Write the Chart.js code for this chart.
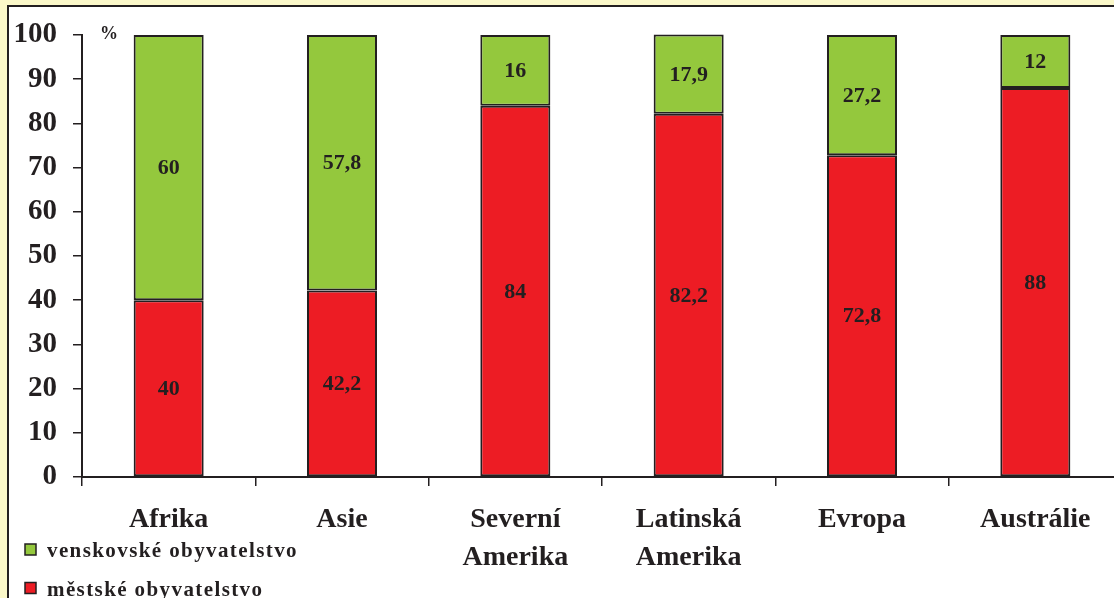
<!DOCTYPE html>
<html><head><meta charset="utf-8">
<script src="https://cdn.jsdelivr.net/npm/chart.js@4.4.1/dist/chart.umd.min.js"></script>
<style>
html,body{margin:0;padding:0;width:1114px;height:598px;overflow:hidden;background:#fbf8c9;}
#panel{position:absolute;left:7px;top:5px;width:1120px;height:600px;background:#fff;border-left:2px solid #231f20;border-top:2px solid #231f20;}
#wrap{position:absolute;left:0;top:0;width:1114px;height:598px;overflow:hidden;}
canvas{position:absolute;left:0;top:0;}
</style></head>
<body>
<div id="panel"></div>
<div id="wrap"><canvas id="c" width="1130" height="598" style="width:1130px;height:598px"></canvas></div>
<script>
const categories = ['Afrika', 'Asie', ['Severní', 'Amerika'], ['Latinská', 'Amerika'], 'Evropa', 'Austrálie'];
const urbanValues = [40, 42.2, 84, 82.2, 72.8, 88];
const ruralValues = [60, 57.8, 16, 17.9, 27.2, 12];
const urbanLabel = 'městské obyvatelstvo';
const ruralLabel = 'venskovské obyvatelstvo';
const yTicks = [0, 10, 20, 30, 40, 50, 60, 70, 80, 90, 100];

const DARK = '#231f20';
const RED = '#ed1c24';
const GREEN = '#94c83d';
const SERIF = '"Liberation Serif", "Times New Roman", serif';

const labelsPlugin = {
  id: 'segLabels',
  afterDatasetsDraw(chart) {
    const ctx = chart.ctx;
    ctx.save();
    ctx.font = 'bold 22px ' + SERIF;
    ctx.fillStyle = DARK;
    ctx.textAlign = 'center';
    ctx.textBaseline = 'middle';
    chart.data.datasets.forEach((ds, i) => {
      const meta = chart.getDatasetMeta(i);
      meta.data.forEach((el, j) => {
        const v = ds.data[j];
        const y = (el.y + el.base) / 2;
        ctx.fillText(String(v).replace('.', ','), el.x, y + 1);
      });
    });
    ctx.font = 'bold 18px ' + SERIF;
    ctx.textAlign = 'left';
    ctx.fillText('%', chart.chartArea.left + 18, chart.chartArea.top - 1);
    ctx.restore();
  }
};

const legendPlugin = {
  id: 'customLegend',
  afterDraw(chart) {
    const ctx = chart.ctx;
    ctx.save();
    const items = chart.data.datasets.slice().reverse();
    ctx.font = 'bold 21px ' + SERIF;
    ctx.letterSpacing = '1.4px';
    ctx.textBaseline = 'alphabetic';
    ctx.textAlign = 'left';
    items.forEach((ds, k) => {
      const top = 544 + k * 38.5;
      ctx.fillStyle = ds.backgroundColor;
      ctx.fillRect(25, top, 11, 11);
      ctx.strokeStyle = DARK;
      ctx.lineWidth = 1.5;
      ctx.strokeRect(25, top, 11, 11);
      ctx.fillStyle = DARK;
      ctx.fillText(ds.label, 47, top + 13);
    });
    ctx.restore();
  }
};

new Chart(document.getElementById('c'), {
  type: 'bar',
  data: {
    labels: categories,
    datasets: [
      { label: urbanLabel, data: urbanValues, backgroundColor: RED, borderColor: DARK, borderWidth: 2, borderSkipped: false },
      { label: ruralLabel, data: ruralValues, backgroundColor: GREEN, borderColor: DARK, borderWidth: 2, borderSkipped: false }
    ]
  },
  options: {
    responsive: false,
    animation: false,
    layout: { padding: { left: 0, top: 35, right: 8, bottom: 0 } },
    datasets: { bar: { categoryPercentage: 1, barPercentage: 0.404, clip: false } },
    plugins: { legend: { display: false }, tooltip: { enabled: false } },
    scales: {
      x: {
        stacked: true,
        afterFit(s) { s.height = 121; },
        border: { display: true, color: DARK, width: 2 },
        grid: { display: true, drawOnChartArea: false, drawTicks: true, tickLength: 9, color: DARK, lineWidth: 1.5, offset: true },
        ticks: { color: DARK, font: { family: SERIF, size: 28, weight: 'bold', lineHeight: 1.36 }, padding: 15, maxRotation: 0, autoSkip: false }
      },
      y: {
        stacked: true,
        min: 0, max: 100,
        afterFit(s) { s.width = 82; },
        afterBuildTicks(s) { s.ticks = yTicks.map(v => ({ value: v })); },
        border: { display: true, color: DARK, width: 2 },
        grid: { display: true, drawOnChartArea: false, drawTicks: true, tickLength: 9, color: DARK, lineWidth: 1.5 },
        ticks: { color: DARK, font: { family: SERIF, size: 29, weight: 'bold' }, padding: 16 }
      }
    }
  },
  plugins: [labelsPlugin, legendPlugin]
});
</script>
</body></html>
